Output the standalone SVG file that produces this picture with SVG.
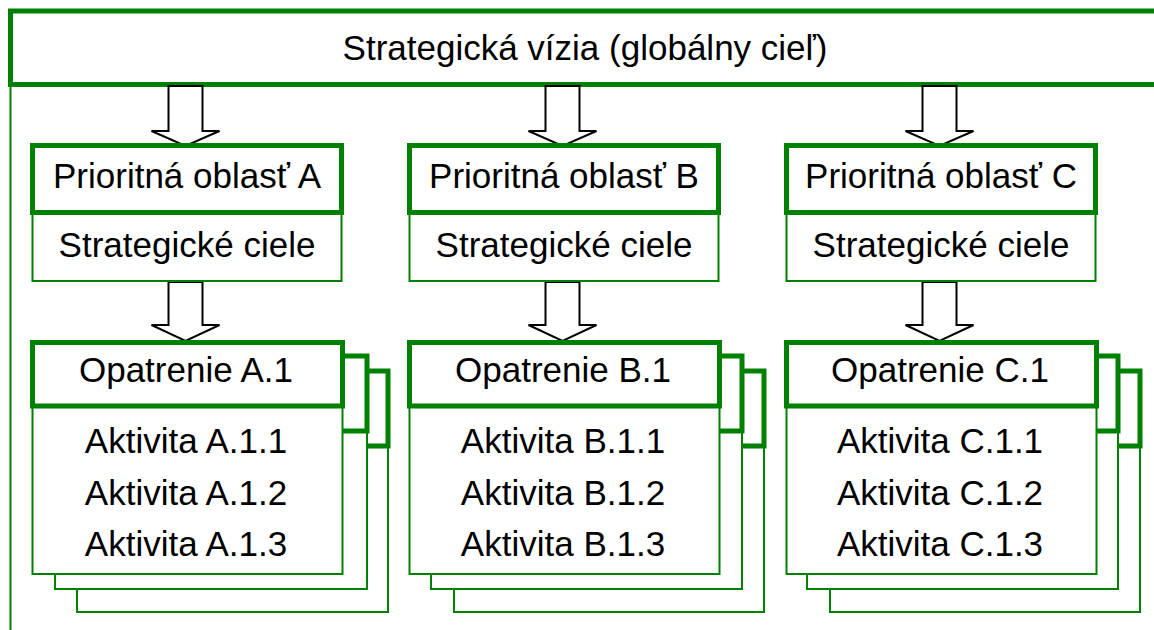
<svg xmlns="http://www.w3.org/2000/svg" width="1154" height="630" viewBox="0 0 1154 630">
  <defs>
    <style>
      .thick { fill: #ffffff; stroke: #008000; stroke-width: 5; }
      .thin { fill: #ffffff; stroke: #008000; stroke-width: 2; }
      .line { fill: none; stroke: #008000; stroke-width: 2; }
      .arrow { fill: #ffffff; stroke: #000000; stroke-width: 2; stroke-linejoin: miter; }
      text { font-family: "Liberation Sans", Arial, sans-serif; font-size: 35px; fill: #000000; text-anchor: middle; }
    </style>
  </defs>
  <rect width="1154" height="630" fill="#ffffff"/>

  <g id="frame">
    <line class="line" x1="10.5" y1="84" x2="10.5" y2="630"/>
  </g>

  <g id="vision">
    <rect class="thick" x="10.5" y="11" width="1160" height="73.5"/>
    <text x="585" y="60">Strategická vízia (globálny cieľ)</text>
  </g>

  <g id="connectors">
    <polygon class="arrow" points="168.5,86 202.5,86 202.5,131 219.5,131 185.5,146 151.5,131 168.5,131"/>
    <polygon class="arrow" points="545.5,86 579.5,86 579.5,131 596.5,131 562.5,146 528.5,131 545.5,131"/>
    <polygon class="arrow" points="922.5,86 956.5,86 956.5,131 973.5,131 939.5,146 905.5,131 922.5,131"/>
    <polygon class="arrow" points="168.5,282 202.5,282 202.5,325 219.5,325 185.5,341 151.5,325 168.5,325"/>
    <polygon class="arrow" points="545.5,282 579.5,282 579.5,325 596.5,325 562.5,341 528.5,325 545.5,325"/>
    <polygon class="arrow" points="922.5,282 956.5,282 956.5,325 973.5,325 939.5,341 905.5,325 922.5,325"/>
  </g>

  <g id="priority-a">
    <rect class="thin" x="32.5" y="212" width="309" height="69"/>
    <rect class="thick" x="32.5" y="145.5" width="309" height="67"/>
    <text x="187" y="188">Prioritná oblasť A</text>
    <text x="187" y="257">Strategické ciele</text>
  </g>
  <g id="priority-b">
    <rect class="thin" x="409.5" y="212" width="309" height="69"/>
    <rect class="thick" x="409.5" y="145.5" width="309" height="67"/>
    <text x="564" y="188">Prioritná oblasť B</text>
    <text x="564" y="257">Strategické ciele</text>
  </g>
  <g id="priority-c">
    <rect class="thin" x="786.5" y="212" width="309" height="69"/>
    <rect class="thick" x="786.5" y="145.5" width="309" height="67"/>
    <text x="941" y="188">Prioritná oblasť C</text>
    <text x="941" y="257">Strategické ciele</text>
  </g>

  <g id="measure-a">
    <rect class="thin" x="77" y="446" width="311" height="166"/>
    <rect class="thick" x="77" y="371" width="311" height="75"/>
    <rect class="thin" x="55" y="431" width="312" height="158"/>
    <rect class="thick" x="55" y="356" width="312" height="75"/>
    <rect class="thin" x="32.5" y="406" width="310" height="168"/>
    <rect class="thick" x="32.5" y="342.5" width="310" height="63.5"/>
    <text x="186" y="382">Opatrenie A.1</text>
    <text x="186" y="453">Aktivita A.1.1</text>
    <text x="186" y="504.5">Aktivita A.1.2</text>
    <text x="186" y="556">Aktivita A.1.3</text>
  </g>
  <g id="measure-b">
    <rect class="thin" x="454" y="446" width="310" height="166"/>
    <rect class="thick" x="454" y="371" width="310" height="75"/>
    <rect class="thin" x="431" y="431" width="311" height="158"/>
    <rect class="thick" x="431" y="356" width="311" height="75"/>
    <rect class="thin" x="409.5" y="406" width="310" height="168"/>
    <rect class="thick" x="409.5" y="342.5" width="310" height="63.5"/>
    <text x="563" y="382">Opatrenie B.1</text>
    <text x="563" y="453">Aktivita B.1.1</text>
    <text x="563" y="504.5">Aktivita B.1.2</text>
    <text x="563" y="556">Aktivita B.1.3</text>
  </g>
  <g id="measure-c">
    <rect class="thin" x="830" y="446" width="310" height="166"/>
    <rect class="thick" x="830" y="371" width="310" height="75"/>
    <rect class="thin" x="807" y="431" width="311" height="158"/>
    <rect class="thick" x="807" y="356" width="311" height="75"/>
    <rect class="thin" x="786.5" y="406" width="310" height="168"/>
    <rect class="thick" x="786.5" y="342.5" width="310" height="63.5"/>
    <text x="940" y="382">Opatrenie C.1</text>
    <text x="940" y="453">Aktivita C.1.1</text>
    <text x="940" y="504.5">Aktivita C.1.2</text>
    <text x="940" y="556">Aktivita C.1.3</text>
  </g>
</svg>
